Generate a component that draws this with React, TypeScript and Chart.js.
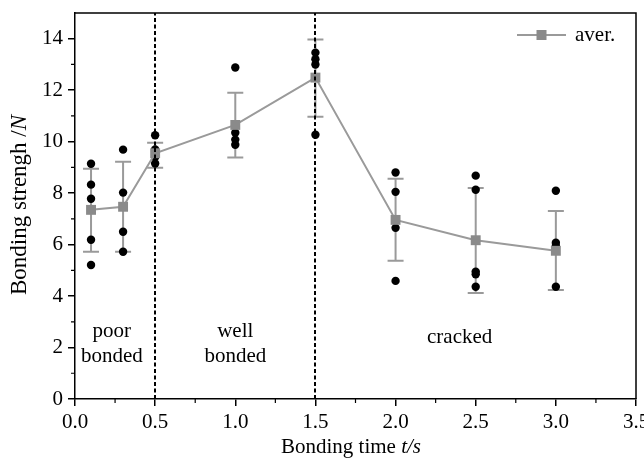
import React, { useEffect, useRef } from "react";
import { Chart, registerables } from "chart.js";

Chart.register(...registerables);

const avgX = [0.1, 0.3, 0.5, 1.0, 1.5, 2.0, 2.5, 3.0];
const avgY = [7.35, 7.47, 9.55, 10.65, 12.49, 6.96, 6.17, 5.76];
const errLow = [5.72, 5.72, 8.99, 9.38, 10.97, 5.37, 4.12, 4.24];
const errHigh = [8.95, 9.22, 9.96, 11.9, 13.97, 8.56, 8.2, 7.31];

const sampleX = [
  0.1, 0.1, 0.1, 0.1, 0.1,
  0.3, 0.3, 0.3, 0.3,
  0.5, 0.5, 0.5, 0.5,
  1.0, 1.0, 1.0, 1.0,
  1.5, 1.5, 1.5, 1.5,
  2.0, 2.0, 2.0, 2.0,
  2.5, 2.5, 2.5, 2.5, 2.5,
  3.0, 3.0, 3.0, 3.0,
];
const sampleY = [
  9.14, 8.33, 7.78, 6.19, 5.21,
  9.69, 8.02, 6.5, 5.72,
  10.25, 9.7, 9.4, 9.15,
  12.88, 10.35, 10.08, 9.88,
  13.46, 13.2, 13.0, 10.27,
  8.8, 8.05, 6.65, 4.59,
  8.68, 8.13, 4.95, 4.85, 4.36,
  8.09, 6.07, 5.95, 4.36,
];

const dividers = [0.5, 1.5];
const regionLabels = [
  { x: 0.23, y: 2.15, lines: ["poor", "bonded"] },
  { x: 1.0, y: 2.15, lines: ["well", "bonded"] },
  { x: 2.4, y: 2.4, lines: ["cracked"] },
];

const FONT = '"Liberation Serif", "Times New Roman", serif';
const FS = 21;
const GRAY_LINE = "#9a9a9a";
const GRAY_FILL = "#8a8a8a";

const decorPlugin = {
  id: "decor",
  beforeDatasetsDraw(chart: any) {
    const ctx = chart.ctx;
    const xs = chart.scales.x;
    const ys = chart.scales.y;
    ctx.save();
    ctx.strokeStyle = GRAY_LINE;
    ctx.lineWidth = 2;
    for (let i = 0; i < avgX.length; i++) {
      const px = xs.getPixelForValue(avgX[i]);
      const pl = ys.getPixelForValue(errLow[i]);
      const ph = ys.getPixelForValue(errHigh[i]);
      ctx.beginPath();
      ctx.moveTo(px, pl);
      ctx.lineTo(px, ph);
      ctx.moveTo(px - 8, pl);
      ctx.lineTo(px + 8, pl);
      ctx.moveTo(px - 8, ph);
      ctx.lineTo(px + 8, ph);
      ctx.stroke();
    }
    ctx.restore();
  },
  afterDatasetsDraw(chart: any) {
    const ctx = chart.ctx;
    const xs = chart.scales.x;
    const ys = chart.scales.y;
    const a = chart.chartArea;
    ctx.save();
    // dashed dividers
    ctx.strokeStyle = "#000";
    ctx.lineWidth = 2;
    ctx.setLineDash([4, 2.5]);
    for (const d of dividers) {
      const px = Math.round(xs.getPixelForValue(d));
      ctx.beginPath();
      ctx.moveTo(px, a.bottom);
      ctx.lineTo(px, a.top);
      ctx.stroke();
    }
    ctx.setLineDash([]);
    // border (top, right)
    ctx.lineWidth = 1.5;
    ctx.beginPath();
    ctx.moveTo(a.left, a.top);
    ctx.lineTo(a.right, a.top);
    ctx.lineTo(a.right, a.bottom);
    ctx.stroke();
    // minor ticks
    ctx.lineWidth = 1.2;
    ctx.beginPath();
    for (let v = 1; v < 15; v += 2) {
      const py = ys.getPixelForValue(v);
      ctx.moveTo(a.left, py);
      ctx.lineTo(a.left - 4, py);
    }
    for (let v = 0.25; v < 3.5; v += 0.5) {
      const px = xs.getPixelForValue(v);
      ctx.moveTo(px, a.bottom);
      ctx.lineTo(px, a.bottom + 4);
    }
    ctx.stroke();
    // region labels
    ctx.fillStyle = "#000";
    ctx.font = `${FS}px ${FONT}`;
    ctx.textAlign = "center";
    ctx.textBaseline = "middle";
    for (const r of regionLabels) {
      const px = xs.getPixelForValue(r.x);
      const py = ys.getPixelForValue(r.y);
      r.lines.forEach((t, i) => {
        ctx.fillText(t, px, py - (r.lines.length - 1) * 12.5 + i * 25);
      });
    }
    // legend
    const ly = 35;
    ctx.strokeStyle = GRAY_LINE;
    ctx.lineWidth = 2;
    ctx.beginPath();
    ctx.moveTo(517, ly);
    ctx.lineTo(566, ly);
    ctx.stroke();
    ctx.fillStyle = GRAY_FILL;
    ctx.fillRect(541.5 - 5, ly - 5, 10, 10);
    ctx.fillStyle = "#000";
    ctx.textAlign = "left";
    ctx.fillText("aver.", 575, ly);
    // x axis title
    const xParts = [
      { t: "Bonding time ", it: false },
      { t: "t/s", it: true },
    ];
    let total = 0;
    for (const p of xParts) {
      ctx.font = `${p.it ? "italic " : ""}${FS}px ${FONT}`;
      total += ctx.measureText(p.t).width;
    }
    let cx = 351 - total / 2;
    for (const p of xParts) {
      ctx.font = `${p.it ? "italic " : ""}${FS}px ${FONT}`;
      ctx.fillText(p.t, cx, 447);
      cx += ctx.measureText(p.t).width;
    }
    // y axis title
    const YFS = 23;
    const yParts = [
      { t: "Bonding strengh /", it: false },
      { t: "N", it: true },
    ];
    total = 0;
    for (const p of yParts) {
      ctx.font = `${p.it ? "italic " : ""}${YFS}px ${FONT}`;
      total += ctx.measureText(p.t).width;
    }
    ctx.translate(20, 205);
    ctx.rotate(-Math.PI / 2);
    let cy = -total / 2;
    for (const p of yParts) {
      ctx.font = `${p.it ? "italic " : ""}${YFS}px ${FONT}`;
      ctx.fillText(p.t, cy, 0);
      cy += ctx.measureText(p.t).width;
    }
    ctx.restore();
  },
};

export default function App() {
  const ref = useRef<HTMLCanvasElement | null>(null);
  useEffect(() => {
    if (!ref.current) return;
    const chart = new Chart(ref.current, {
      type: "scatter",
      data: {
        datasets: [
          {
            label: "aver.",
            data: avgX.map((x, i) => ({ x, y: avgY[i] })),
            showLine: true,
            borderColor: GRAY_LINE,
            borderWidth: 2,
            pointStyle: "rect",
            pointRadius: 7,
            pointBackgroundColor: GRAY_FILL,
            pointBorderColor: GRAY_FILL,
            pointBorderWidth: 0,
            order: 0,
          },
          {
            label: "samples",
            data: sampleX.map((x, i) => ({ x, y: sampleY[i] })),
            pointStyle: "circle",
            pointRadius: 4.2,
            pointBackgroundColor: "#000",
            pointBorderColor: "#000",
            pointBorderWidth: 0,
            order: 1,
          },
        ],
      },
      options: {
        responsive: false,
        animation: false,
        layout: { padding: { left: 0, top: 13, right: 8, bottom: 0 } },
        plugins: {
          legend: { display: false },
          tooltip: { enabled: false },
        },
        scales: {
          x: {
            type: "linear",
            min: 0,
            max: 3.5,
            ticks: {
              stepSize: 0.5,
              color: "#000",
              font: { family: FONT, size: FS },
              padding: 4,
              maxRotation: 0,
              callback: (v: any) => Number(v).toFixed(1),
            },
            grid: {
              display: true,
              drawOnChartArea: false,
              drawTicks: true,
              tickLength: 7,
              color: "#000",
              lineWidth: 1.5,
            },
            border: { display: true, color: "#000", width: 1.5 },
            afterFit: (s: any) => {
              s.height = 68;
              s.paddingLeft = 0;
              s.paddingRight = 0;
            },
          },
          y: {
            type: "linear",
            min: 0,
            max: 15,
            ticks: {
              stepSize: 2,
              includeBounds: false,
              color: "#000",
              font: { family: FONT, size: FS },
              padding: 5,
            },
            grid: {
              display: true,
              drawOnChartArea: false,
              drawTicks: true,
              tickLength: 7,
              color: "#000",
              lineWidth: 1.5,
            },
            border: { display: true, color: "#000", width: 1.5 },
            afterFit: (s: any) => {
              s.width = 75;
              s.paddingTop = 0;
              s.paddingBottom = 0;
            },
          },
        },
      } as any,
      plugins: [decorPlugin],
    });
    return () => chart.destroy();
  }, []);
  return (
    <div style={{ position: "fixed", left: 0, top: 0, width: 644, height: 467, background: "#fff" }}>
      <canvas ref={ref} width={644} height={467} style={{ width: 644, height: 467 }} />
    </div>
  );
}
